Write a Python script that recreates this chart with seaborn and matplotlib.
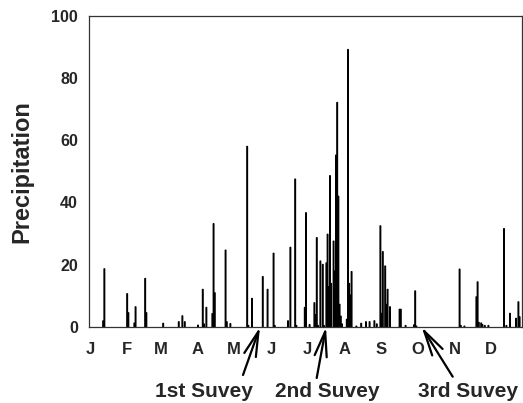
import matplotlib
matplotlib.use("Agg")
import matplotlib.pyplot as plt
import seaborn as sns

# Daily precipitation (day of year, 0 = 1 Jan)
days = [11, 12, 31, 32, 37, 38, 46, 47, 61, 74, 77, 79, 90, 94, 95, 97,
        102, 103, 104, 113, 114, 117, 131, 132, 135, 144, 148, 153, 154,
        165, 167, 171, 172, 179, 180, 183, 187, 188, 189, 190, 192, 194, 195,
        197, 198, 199, 200, 201, 203, 204, 205, 206, 207, 208, 209, 210,
        214, 215, 216, 217, 218, 222, 226, 230, 233, 237, 239,
        242, 243, 244, 246, 247, 248, 250, 258, 259, 263, 270, 271, 272,
        308, 309, 312, 322, 323, 324, 326, 327, 329, 332,
        345, 347, 350, 355, 357, 358]
precip = [2.0, 18.7, 10.7, 4.6, 1.3, 6.5, 15.6, 4.6, 1.2, 1.7, 3.6, 1.7, 0.6, 12.1, 1.0, 6.3,
          4.3, 33.2, 11.0, 24.7, 1.7, 1.1, 58.0, 0.5, 9.2, 16.2, 12.1, 23.7, 0.5,
          2.0, 25.6, 47.5, 0.5, 6.3, 36.7, 0.8, 7.8, 4.0, 28.7, 0.5, 21.2, 20.1, 0.5,
          20.6, 29.8, 13.0, 48.6, 14.0, 27.6, 18.0, 55.2, 72.1, 42.0, 7.3, 3.5, 1.0,
          2.5, 89.1, 14.0, 10.3, 17.8, 0.3, 1.2, 1.7, 1.7, 2.0, 1.0,
          32.5, 4.4, 24.2, 19.6, 7.3, 12.1, 6.5, 5.7, 5.7, 0.5, 0.7, 11.6, 0.3,
          18.6, 0.5, 0.3, 9.7, 14.5, 1.5, 1.3, 0.8, 0.5, 0.5,
          31.6, 0.5, 4.4, 2.8, 8.1, 3.3]

month_starts = [0, 31, 59, 90, 120, 151, 181, 212, 243, 273, 304, 334]
month_labels = ["J", "F", "M", "A", "M", "J", "J", "A", "S", "O", "N", "D"]
y_ticks = [0, 20, 40, 60, 80, 100]

survey_labels = ["1st Suvey", "2nd Suvey", "3rd Suvey"]
survey_days = [141.7, 196.7, 276.4]

sns.set_style("white")
plt.rcParams["font.family"] = ["Liberation Sans", "DejaVu Sans"]
plt.rcParams["font.weight"] = "bold"

fig = plt.figure(figsize=(5.23, 4.03), dpi=100)
ax = fig.add_axes([89 / 523, 1 - 327 / 403, 433 / 523, (327 - 15.5) / 403])

sns.barplot(x=days, y=precip, native_scale=True, width=0.7, color="#222222",
            saturation=1, edgecolor="black", linewidth=0.8, errorbar=None, ax=ax)
for p in ax.patches:
    p.set_snap(False)

ax.set_xlim(-0.8, 360)
ax.set_ylim(0, 100)
ax.set_xticks(month_starts)
ax.set_xticklabels(month_labels, fontsize=12, fontweight="bold")
ax.set_yticks(y_ticks)
ax.set_yticklabels([str(v) for v in y_ticks], fontsize=11.5, fontweight="bold")
ax.tick_params(axis="x", direction="out", length=2.5, width=0.8, pad=8, color="#444")
ax.tick_params(axis="y", direction="out", length=3, width=0.8, pad=5, color="#444")
ax.set_xlabel("")
ax.set_ylabel("Precipitation", fontsize=17, fontweight="bold")
ax.yaxis.set_label_coords(-0.128, 0.5)
for s in ax.spines.values():
    s.set_visible(True)
    s.set_color("#333333")
    s.set_linewidth(0.9)

# arrows and survey labels
tails_px = [(243, 28), (316.7, 25), (452.7, 26.3)]
text_px = [(203.7, 11.5), (327, 11.5), (468.3, 11.5)]
for lab, d, tail, tp in zip(survey_labels, survey_days, tails_px, text_px):
    ax.annotate("", xy=(d, 0), xycoords="data", xytext=tail,
                textcoords="figure pixels",
                arrowprops=dict(arrowstyle="->,head_length=0.9,head_width=0.22",
                                color="black", lw=1.6, mutation_scale=20,
                                shrinkA=0, shrinkB=0),
                annotation_clip=False)
    fig.text(tp[0] / 523, tp[1] / 403, lab, ha="center", va="center",
             fontsize=15, fontweight="bold")

fig.savefig("out.png", dpi=100)
